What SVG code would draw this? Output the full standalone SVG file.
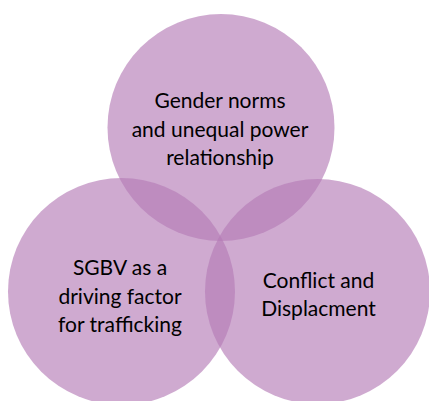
<svg xmlns="http://www.w3.org/2000/svg" width="429" height="401" viewBox="0 0 429 401">
<style>
.c{fill:rgb(181,123,182);fill-opacity:0.646}
.t{font-family:Lato,"Open Sans","Liberation Sans",sans-serif;font-size:21px;fill:#000;text-anchor:middle}
</style>
<rect width="429" height="401" fill="#fff"/>
<g id="connectors"></g>
<g id="node-top"><circle class="c" cx="221" cy="127.5" r="113.5"/></g>
<g id="node-left"><circle class="c" cx="121.5" cy="291.5" r="113.5"/></g>
<g id="node-right"><circle class="c" cx="317.5" cy="291.5" r="112.5"/></g>
<g id="label-top"><text class="t" x="220" y="108">Gender norms</text><text class="t" x="220" y="137">and unequal power</text><text class="t" x="220" y="165">relationship</text></g>
<g id="label-left"><text class="t" x="120" y="275">SGBV as a</text><text class="t" x="120" y="303.5">driving factor</text><text class="t" x="120" y="332">for trafficking</text></g>
<g id="label-right"><text class="t" x="318.5" y="288">Conflict and</text><text class="t" x="318.5" y="315.5">Displacment</text></g>
</svg>
